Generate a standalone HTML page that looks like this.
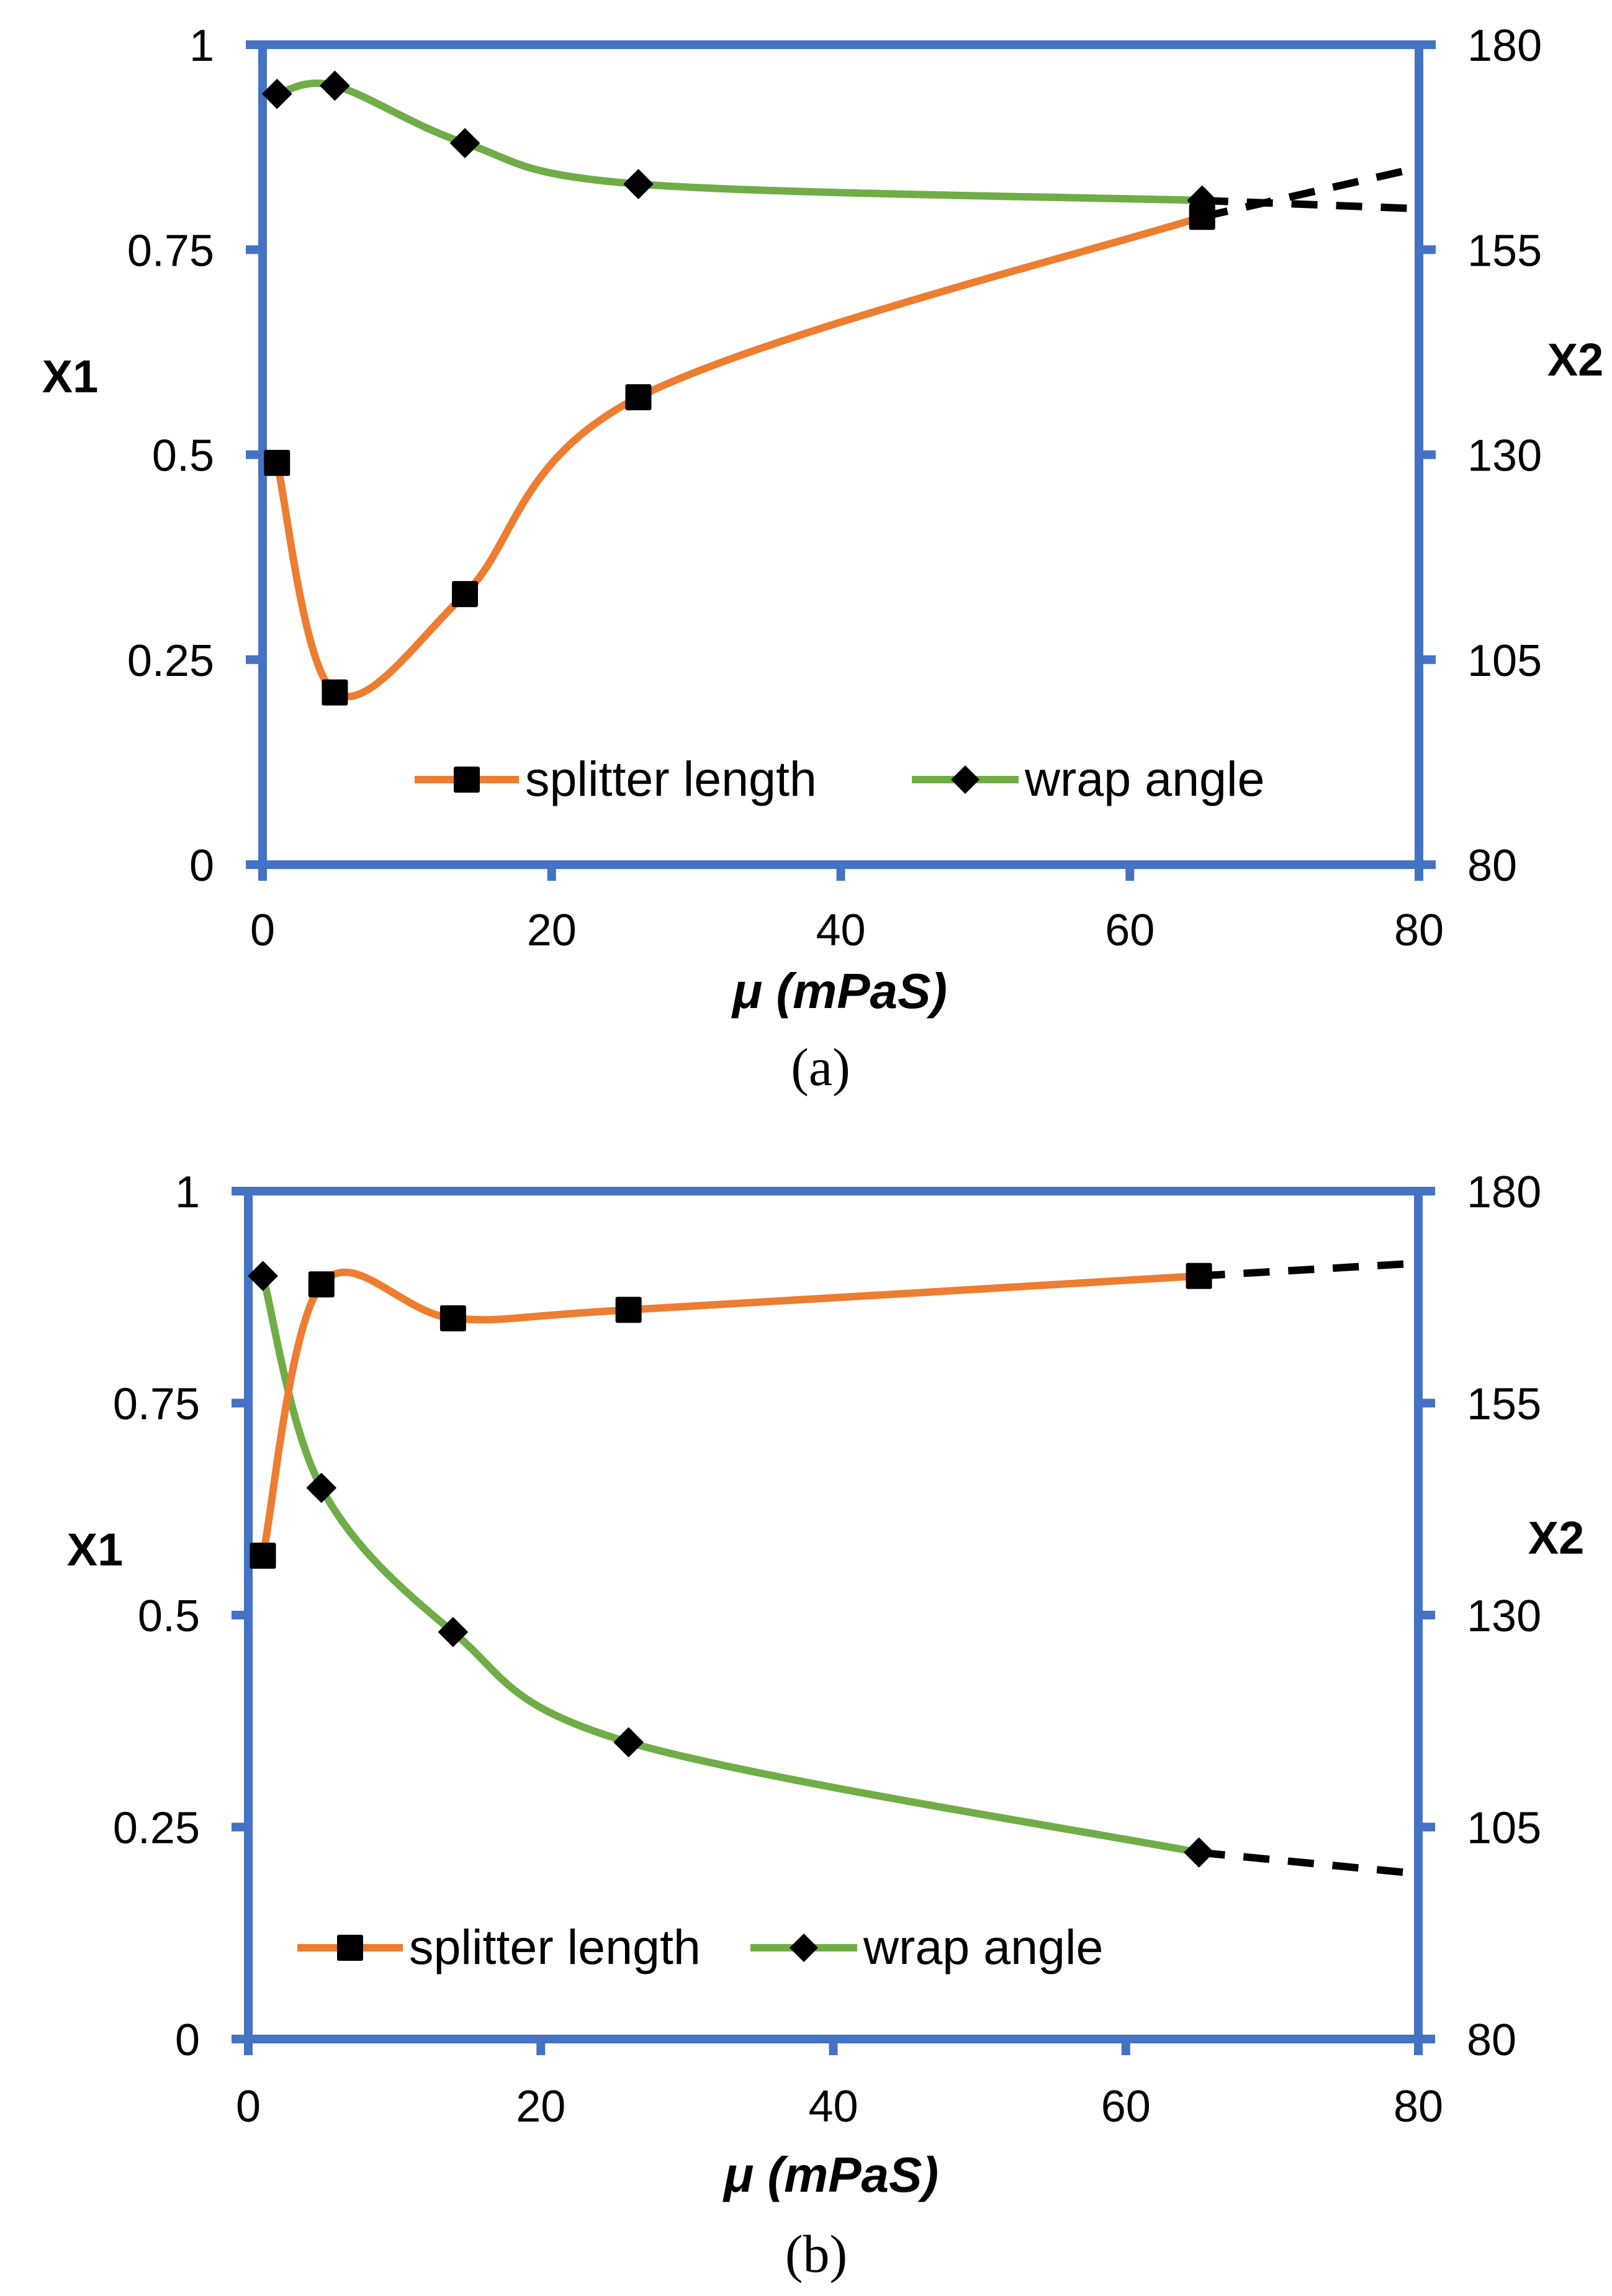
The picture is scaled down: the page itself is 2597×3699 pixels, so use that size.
<!DOCTYPE html>
<html><head><meta charset="utf-8"><style>
html,body{margin:0;padding:0;background:#fff}
svg{display:block}
text{font-family:"Liberation Sans",sans-serif;fill:#000}
</style></head><body>
<svg id="fig" width="2597" height="3699" viewBox="0 0 2597 3699" xmlns="http://www.w3.org/2000/svg"></svg>
<script>
const muValues = [1, 5, 14, 26, 65];
const xTicks = [0, 20, 40, 60, 80];
const yLeftTicks = [0, 0.25, 0.5, 0.75, 1];
const yLeftTickLabels = ["0", "0.25", "0.5", "0.75", "1"];
const yRightTickLabels = ["80", "105", "130", "155", "180"];
const splitterA = [0.49, 0.21, 0.33, 0.57, 0.79];
const wrapA = [174, 175, 168, 163, 161];
const dashEndMu = 80;
const splitterADashEnd = 0.85;
const wrapADashEnd = 160;
const splitterB = [0.57, 0.89, 0.85, 0.86, 0.90];
const wrapB = [170, 145, 128, 115, 102];
const splitterBDashEnd = 0.915;
const wrapBDashEnd = 99.5;

const NS = "http://www.w3.org/2000/svg";
const svg = document.getElementById('fig');
function mk(tag, attrs, parent) {
  const e = document.createElementNS(NS, tag);
  for (const k in attrs) e.setAttribute(k, attrs[k]);
  (parent || svg).appendChild(e);
  return e;
}
function smoothPath(pts) {
  let d = `M${pts[0][0]},${pts[0][1]}`;
  const t = 1 / 6;
  for (let i = 0; i < pts.length - 1; i++) {
    const p0 = pts[i - 1] || pts[i], p1 = pts[i], p2 = pts[i + 1], p3 = pts[i + 2] || p2;
    const c1 = [p1[0] + (p2[0] - p0[0]) * t, p1[1] + (p2[1] - p0[1]) * t];
    const c2 = [p2[0] - (p3[0] - p1[0]) * t, p2[1] - (p3[1] - p1[1]) * t];
    d += ` C${c1[0]},${c1[1]} ${c2[0]},${c2[1]} ${p2[0]},${p2[1]}`;
  }
  return d;
}
function panel(cfg) {
  const g = mk('g', {});
  
  
  const X = v => cfg.x0 + (cfg.x1 - cfg.x0) * v / 80;
  const YL = v => cfg.y1 + (cfg.y0 - cfg.y1) * v;
  const YR = v => cfg.y1 + (cfg.y0 - cfg.y1) * (v - 80) / 100;
  const blue = '#4472C4';
  const ax = mk('g', {stroke: blue, 'stroke-width': 14, fill: 'none'}, g);
  
  
  mk('line', {x1: cfg.x0 - 27, y1: cfg.y0, x2: cfg.x1 + 27, y2: cfg.y0}, ax);
  mk('line', {x1: cfg.x0 - 27, y1: cfg.y1, x2: cfg.x1 + 27, y2: cfg.y1}, ax);
  mk('line', {x1: cfg.x0, y1: cfg.y0 - 7, x2: cfg.x0, y2: cfg.y1 + 26}, ax);
  mk('line', {x1: cfg.x1, y1: cfg.y0 - 7, x2: cfg.x1, y2: cfg.y1 + 26}, ax);
  yLeftTicks.forEach(v => {
    mk('line', {x1: cfg.x0 - 27, y1: YL(v), x2: cfg.x0, y2: YL(v)}, ax);
    mk('line', {x1: cfg.x1, y1: YL(v), x2: cfg.x1 + 27, y2: YL(v)}, ax);
  });
  xTicks.forEach(v => mk('line', {x1: X(v), y1: cfg.y1, x2: X(v), y2: cfg.y1 + 26}, ax));
  yLeftTicks.forEach((v, i) => {
    const t = mk('text', {x: cfg.x0 - 78, y: YL(v) + 26, 'font-size': 72, 'text-anchor': 'end'}, g);
    t.textContent = yLeftTickLabels[i];
    
    
    const r = mk('text', {x: cfg.x1 + 78, y: YL(v) + 26, 'font-size': 72}, g);
    r.textContent = yRightTickLabels[i];
    
    
  });
  xTicks.forEach(v => {
    const t = mk('text', {x: X(v), y: cfg.xLabY, 'font-size': 72, 'text-anchor': 'middle'}, g);
    t.textContent = String(v);
    
    
  });
  let t = mk('text', {x: cfg.x1Lab[0], y: cfg.x1Lab[1], 'font-size': 74, 'font-weight': 'bold', 'text-anchor': 'middle'}, g);
  t.textContent = 'X1';
  
  
  t = mk('text', {x: cfg.x2Lab[0], y: cfg.x2Lab[1], 'font-size': 74, 'font-weight': 'bold', 'text-anchor': 'middle'}, g);
  t.textContent = 'X2';
  
  
  t = mk('text', {x: cfg.muLab[0], y: cfg.muLab[1], 'font-size': 80, 'font-weight': 'bold', 'font-style': 'italic', 'text-anchor': 'middle'}, g);
  t.textContent = 'μ (mPaS)';
  
  
  t = mk('text', {x: cfg.capLab[0], y: cfg.capLab[1], 'font-size': 86, 'text-anchor': 'middle', style: 'font-family:"Liberation Serif",serif'}, g);
  t.textContent = cfg.caption;
  
  
  const sp = muValues.map((m, i) => [X(m), YL(cfg.splitter[i])]);
  const wp = muValues.map((m, i) => [X(m), YR(cfg.wrap[i])]);
  const last = muValues.length - 1;
  let d = mk('path', {d: `M${sp[last][0]},${sp[last][1]} L${X(dashEndMu)},${YL(cfg.splitterDash)}`, stroke: '#000', 'stroke-width': 12, 'stroke-dasharray': '42 30', fill: 'none'}, g);
  
  
  d = mk('path', {d: `M${wp[last][0]},${wp[last][1]} L${X(dashEndMu)},${YR(cfg.wrapDash)}`, stroke: '#000', 'stroke-width': 12, 'stroke-dasharray': '42 30', fill: 'none'}, g);
  
  
  const orange = '#ED7D31', green = '#70AD47';
  const drawSeries = (pts, color, marker, name) => {
    const p = mk('path', {d: smoothPath(pts), stroke: color, 'stroke-width': 12, fill: 'none', 'stroke-linecap': 'round'}, g);
    
    
    pts.forEach(q => {
      const m = marker(q[0], q[1]);
      
      
    });
  };
  const sq = (x, y) => mk('rect', {x: x - 21, y: y - 21, width: 42, height: 42, rx: 3, fill: '#000'}, g);
  const dm = (x, y) => mk('polygon', {points: `${x},${y - 23} ${x + 23},${y} ${x},${y + 23} ${x - 23},${y}`, fill: '#000', stroke: '#000', 'stroke-width': 2, 'stroke-linejoin': 'round'}, g);
  drawSeries(wp, green, dm, 'wrap-angle');
  drawSeries(sp, orange, sq, 'splitter-length');
  const L = cfg.legend;
  const lg = mk('g', {}, g);
  
  
  mk('line', {x1: L.s[0], y1: L.y, x2: L.s[1], y2: L.y, stroke: orange, 'stroke-width': 12}, lg);
  const lsq = mk('rect', {x: (L.s[0] + L.s[1]) / 2 - 21, y: L.y - 21, width: 42, height: 42, rx: 3, fill: '#000'}, lg);
  
  
  t = mk('text', {x: L.s[1] + 10, y: L.y + 26, 'font-size': 79}, lg);
  t.textContent = 'splitter length';
  
  
  mk('line', {x1: L.w[0], y1: L.y, x2: L.w[1], y2: L.y, stroke: green, 'stroke-width': 12}, lg);
  const cx = (L.w[0] + L.w[1]) / 2;
  const ldm = mk('polygon', {points: `${cx},${L.y - 23} ${cx + 23},${L.y} ${cx},${L.y + 23} ${cx - 23},${L.y}`, fill: '#000'}, lg);
  
  
  t = mk('text', {x: L.w[1] + 10, y: L.y + 26, 'font-size': 79}, lg);
  t.textContent = 'wrap angle';
  
  
}
panel({name: 'chart-a', x0: 423, x1: 2286, y0: 72, y1: 1393, xLabY: 1523,
  x1Lab: [113, 632], x2Lab: [2538, 605], muLab: [1353, 1624], capLab: [1322, 1748], caption: '(a)',
  splitter: splitterA, wrap: wrapA, splitterDash: splitterADashEnd, wrapDash: wrapADashEnd,
  legend: {y: 1256, s: [668, 836], w: [1469, 1641]}});
panel({name: 'chart-b', x0: 400, x1: 2285, y0: 1919, y1: 3285, xLabY: 3418,
  x1Lab: [153, 2522], x2Lab: [2507, 2503], muLab: [1339, 3531], capLab: [1315, 3660], caption: '(b)',
  splitter: splitterB, wrap: wrapB, splitterDash: splitterBDashEnd, wrapDash: wrapBDashEnd,
  legend: {y: 3138, s: [479, 649], w: [1209, 1381]}});
</script>
</body></html>
